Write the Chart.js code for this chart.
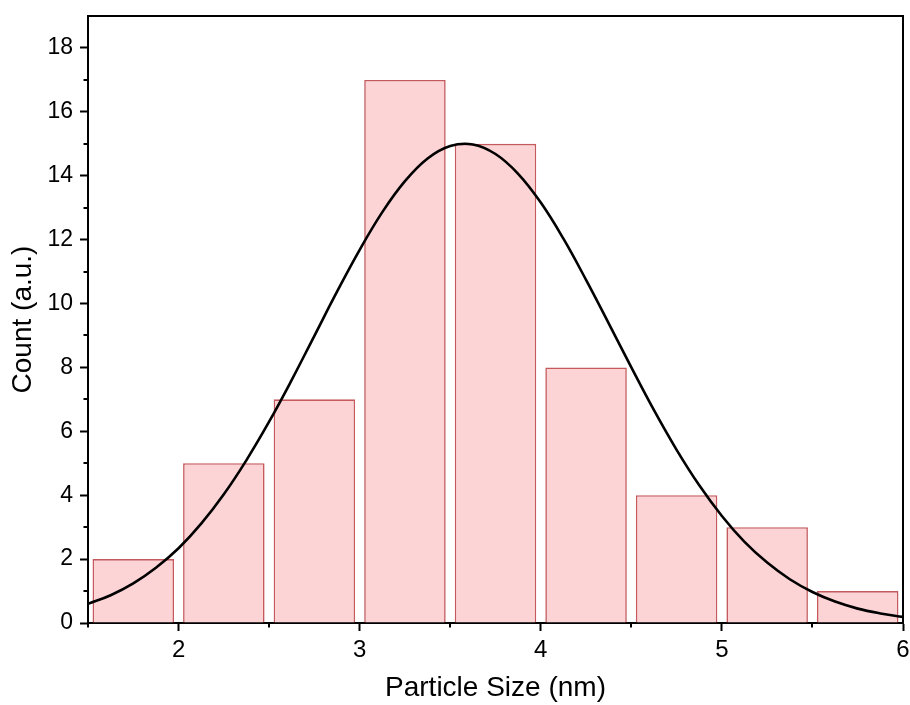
<!DOCTYPE html>
<html>
<head>
<meta charset="utf-8">
<title>Particle size distribution</title>
<script src="https://cdn.jsdelivr.net/npm/chart.js@4.4.0/dist/chart.umd.min.js"></script>
<style>
  html, body { margin: 0; padding: 0; background: #fff; }
  #wrap { width: 910px; height: 705px; }
</style>
</head>
<body>
<div id="wrap"><canvas id="sizeChart" width="910" height="705"></canvas></div>
<script>
// histogram bins: centre of each 0.5 nm bin and its count
const binCenters = [1.75, 2.25, 2.75, 3.25, 3.75, 4.25, 4.75, 5.25, 5.75];
const binCounts = [2, 5, 7, 17, 15, 8, 4, 3, 1];

// fitted distribution curve (nm, count)
const fitX = [1.5, 1.625, 1.75, 1.875, 2.0, 2.125, 2.25, 2.375, 2.5, 2.625, 2.75, 2.875,
  3.0, 3.125, 3.25, 3.375, 3.5, 3.625, 3.75, 3.875, 4.0, 4.125, 4.25, 4.375,
  4.5, 4.625, 4.75, 4.875, 5.0, 5.125, 5.25, 5.375, 5.5, 5.625, 5.75, 5.875, 6.0];
const fitY = [0.60, 0.87, 1.24, 1.73, 2.34, 3.11, 4.03, 5.10, 6.30, 7.61, 8.99, 10.37,
  11.68, 12.86, 13.83, 14.54, 14.93, 14.98, 14.68, 14.06, 13.16, 12.03, 10.74, 9.38,
  8.00, 6.66, 5.42, 4.31, 3.35, 2.54, 1.89, 1.37, 0.97, 0.67, 0.45, 0.30, 0.19];

const FONT = "'Liberation Sans', Arial, sans-serif";

// frame on top/right + short minor ticks
const framePlugin = {
  id: "frame",
  afterDraw(chart) {
    const { ctx, chartArea: a, scales } = chart;
    ctx.save();
    ctx.strokeStyle = "#000";
    ctx.lineWidth = 2;
    ctx.beginPath();
    ctx.moveTo(a.left, a.top);
    ctx.lineTo(a.right, a.top);
    ctx.lineTo(a.right, a.bottom);
    ctx.stroke();

    // minor ticks
    ctx.beginPath();
    scales.y.ticks.forEach((t) => {
      if (t.value % 2 !== 0 && t.value < scales.y.max) {
        const py = Math.round(scales.y.getPixelForValue(t.value));
        ctx.moveTo(a.left - 4.5, py);
        ctx.lineTo(a.left, py);
      }
    });
    scales.x.ticks.forEach((t) => {
      if (!Number.isInteger(t.value)) {
        const px = Math.round(scales.x.getPixelForValue(t.value));
        ctx.moveTo(px, a.bottom);
        ctx.lineTo(px, a.bottom + 4.5);
      }
    });
    ctx.stroke();
    ctx.restore();
  },
};

const ctx = document.getElementById("sizeChart").getContext("2d");

new Chart(ctx, {
  type: "bar",
  data: {
    datasets: [
      {
        type: "line",
        label: "Fit",
        data: fitX.map((x, i) => ({ x: x, y: fitY[i] })),
        borderColor: "#000",
        borderWidth: 2.6,
        pointRadius: 0,
        fill: false,
        tension: 0.4,
        order: 1,
      },
      {
        type: "bar",
        label: "Count",
        data: binCenters.map((x, i) => ({ x: x, y: binCounts[i] })),
        backgroundColor: "#fdd4d5",
        borderColor: "#c45a5e",
        borderWidth: 1.6,
        barPercentage: 0.9,
        categoryPercentage: 1,
        order: 2,
      },
    ],
  },
  options: {
    responsive: false,
    animation: false,
    layout: { padding: { top: 16, right: 7, left: 0, bottom: 0 } },
    plugins: {
      legend: { display: false },
      tooltip: { enabled: false },
    },
    scales: {
      x: {
        type: "linear",
        min: 1.5,
        max: 6,
        offset: false,
        border: { color: "#000", width: 2 },
        grid: {
          offset: false,
          drawOnChartArea: false,
          tickLength: 8,
          tickWidth: 2,
          tickColor: (c) => (c.tick && Number.isInteger(c.tick.value) ? "#000" : "rgba(0,0,0,0)"),
        },
        ticks: {
          stepSize: 0.5,
          color: "#000",
          padding: 5,
          maxRotation: 0,
          autoSkip: false,
          font: { family: FONT, size: 24 },
          callback: (v) => (Number.isInteger(v) ? String(v) : ""),
        },
        title: {
          display: true,
          text: "Particle Size (nm)",
          color: "#000",
          font: { family: FONT, size: 28 },
          padding: { top: 0, bottom: 0 },
        },
        afterFit(scale) {
          scale.height = 82;
          scale.paddingLeft = 0;
          scale.paddingRight = 0;
        },
      },
      y: {
        min: 0,
        max: 19,
        border: { color: "#000", width: 2 },
        grid: {
          drawOnChartArea: false,
          tickLength: 8,
          tickWidth: 2,
          tickColor: (c) => (c.tick && c.tick.value % 2 === 0 ? "#000" : "rgba(0,0,0,0)"),
        },
        ticks: {
          stepSize: 1,
          color: "#000",
          padding: 7,
          autoSkip: false,
          font: { family: FONT, size: 23 },
          callback: (v) => (v % 2 === 0 ? String(v) : ""),
        },
        title: {
          display: true,
          text: "Count (a.u.)",
          color: "#000",
          font: { family: FONT, size: 28 },
          padding: { top: 6, bottom: 0 },
        },
        afterFit(scale) {
          scale.width = 88;
          scale.paddingTop = 0;
          scale.paddingBottom = 0;
        },
      },
    },
  },
  plugins: [framePlugin],
});
</script>
</body>
</html>
